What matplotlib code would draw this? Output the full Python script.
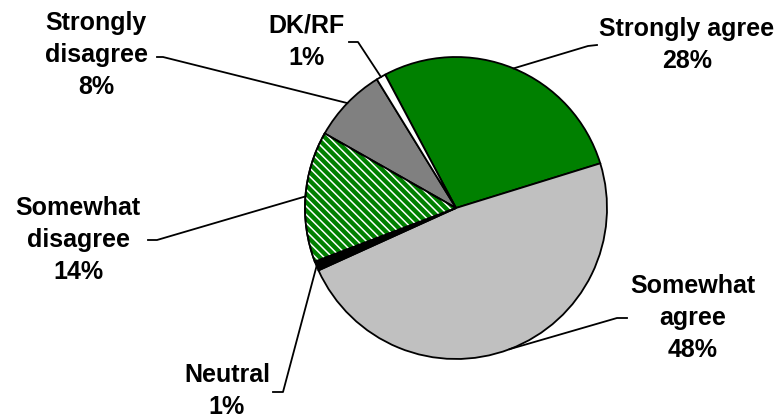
import numpy as np
import matplotlib.pyplot as plt
from matplotlib.patches import Wedge

plt.rcParams['font.family'] = ['Liberation Sans', 'DejaVu Sans']
plt.rcParams['hatch.linewidth'] = 1.1

labels = ['Strongly agree', 'Somewhat\nagree', 'Neutral', 'Somewhat\ndisagree', 'Strongly\ndisagree', 'DK/RF']
values = [28, 48, 1, 14, 8, 1]
colors = ['#008000', '#c0c0c0', '#000000', '#008000', '#808080', '#ffffff']

# label layout (pixel coords, y down): text centre, leader start, leader elbow
text_pos = [(687, 45), (693, 318), (227, 391), (78, 240), (96, 55), (307, 42)]
lead_start = [(597, 45), (627, 318), (273, 392), (148, 240), (157, 57), (349, 42)]
lead_elbow = [(588, 46), (617, 318), (283, 392), (157, 240), (163, 57), (358, 42)]

W, H = 780, 419
fig = plt.figure(figsize=(7.8, 4.19), dpi=100)
ax = fig.add_axes([0, 0, 1, 1])

cx, cy, r = 456, H - 208, 151
wedges, _ = ax.pie(values, colors=colors, startangle=118, counterclock=False,
                   center=(cx, cy), radius=r, frame=True,
                   wedgeprops=dict(edgecolor='black', linewidth=1.3))
ax.set_xlim(0, W)
ax.set_ylim(0, H)
ax.set_aspect('equal')
ax.axis('off')

# white stripes on somewhat disagree
w = wedges[3]
ax.add_patch(Wedge(w.center, w.r, w.theta1, w.theta2, facecolor='none',
                   edgecolor='white', hatch='\\\\\\\\', linewidth=0, zorder=w.get_zorder() + 0.1))
ax.add_patch(Wedge(w.center, w.r, w.theta1, w.theta2, facecolor='none',
                   edgecolor='black', linewidth=1.3, zorder=w.get_zorder() + 0.2))

for i, wd in enumerate(wedges):
    mid = np.deg2rad((wd.theta1 + wd.theta2) / 2)
    px, py = cx + r * np.cos(mid), cy + r * np.sin(mid)
    xs = [lead_start[i][0], lead_elbow[i][0], px]
    ys = [H - lead_start[i][1], H - lead_elbow[i][1], py]
    ax.plot(xs, ys, color='black', lw=1.3, zorder=5)
    ax.text(text_pos[i][0], H - text_pos[i][1], labels[i] + '\n' + str(values[i]) + '%',
            ha='center', va='center', fontsize=18, fontweight='bold', linespacing=1.43)

fig.savefig('out.png', dpi=100)
